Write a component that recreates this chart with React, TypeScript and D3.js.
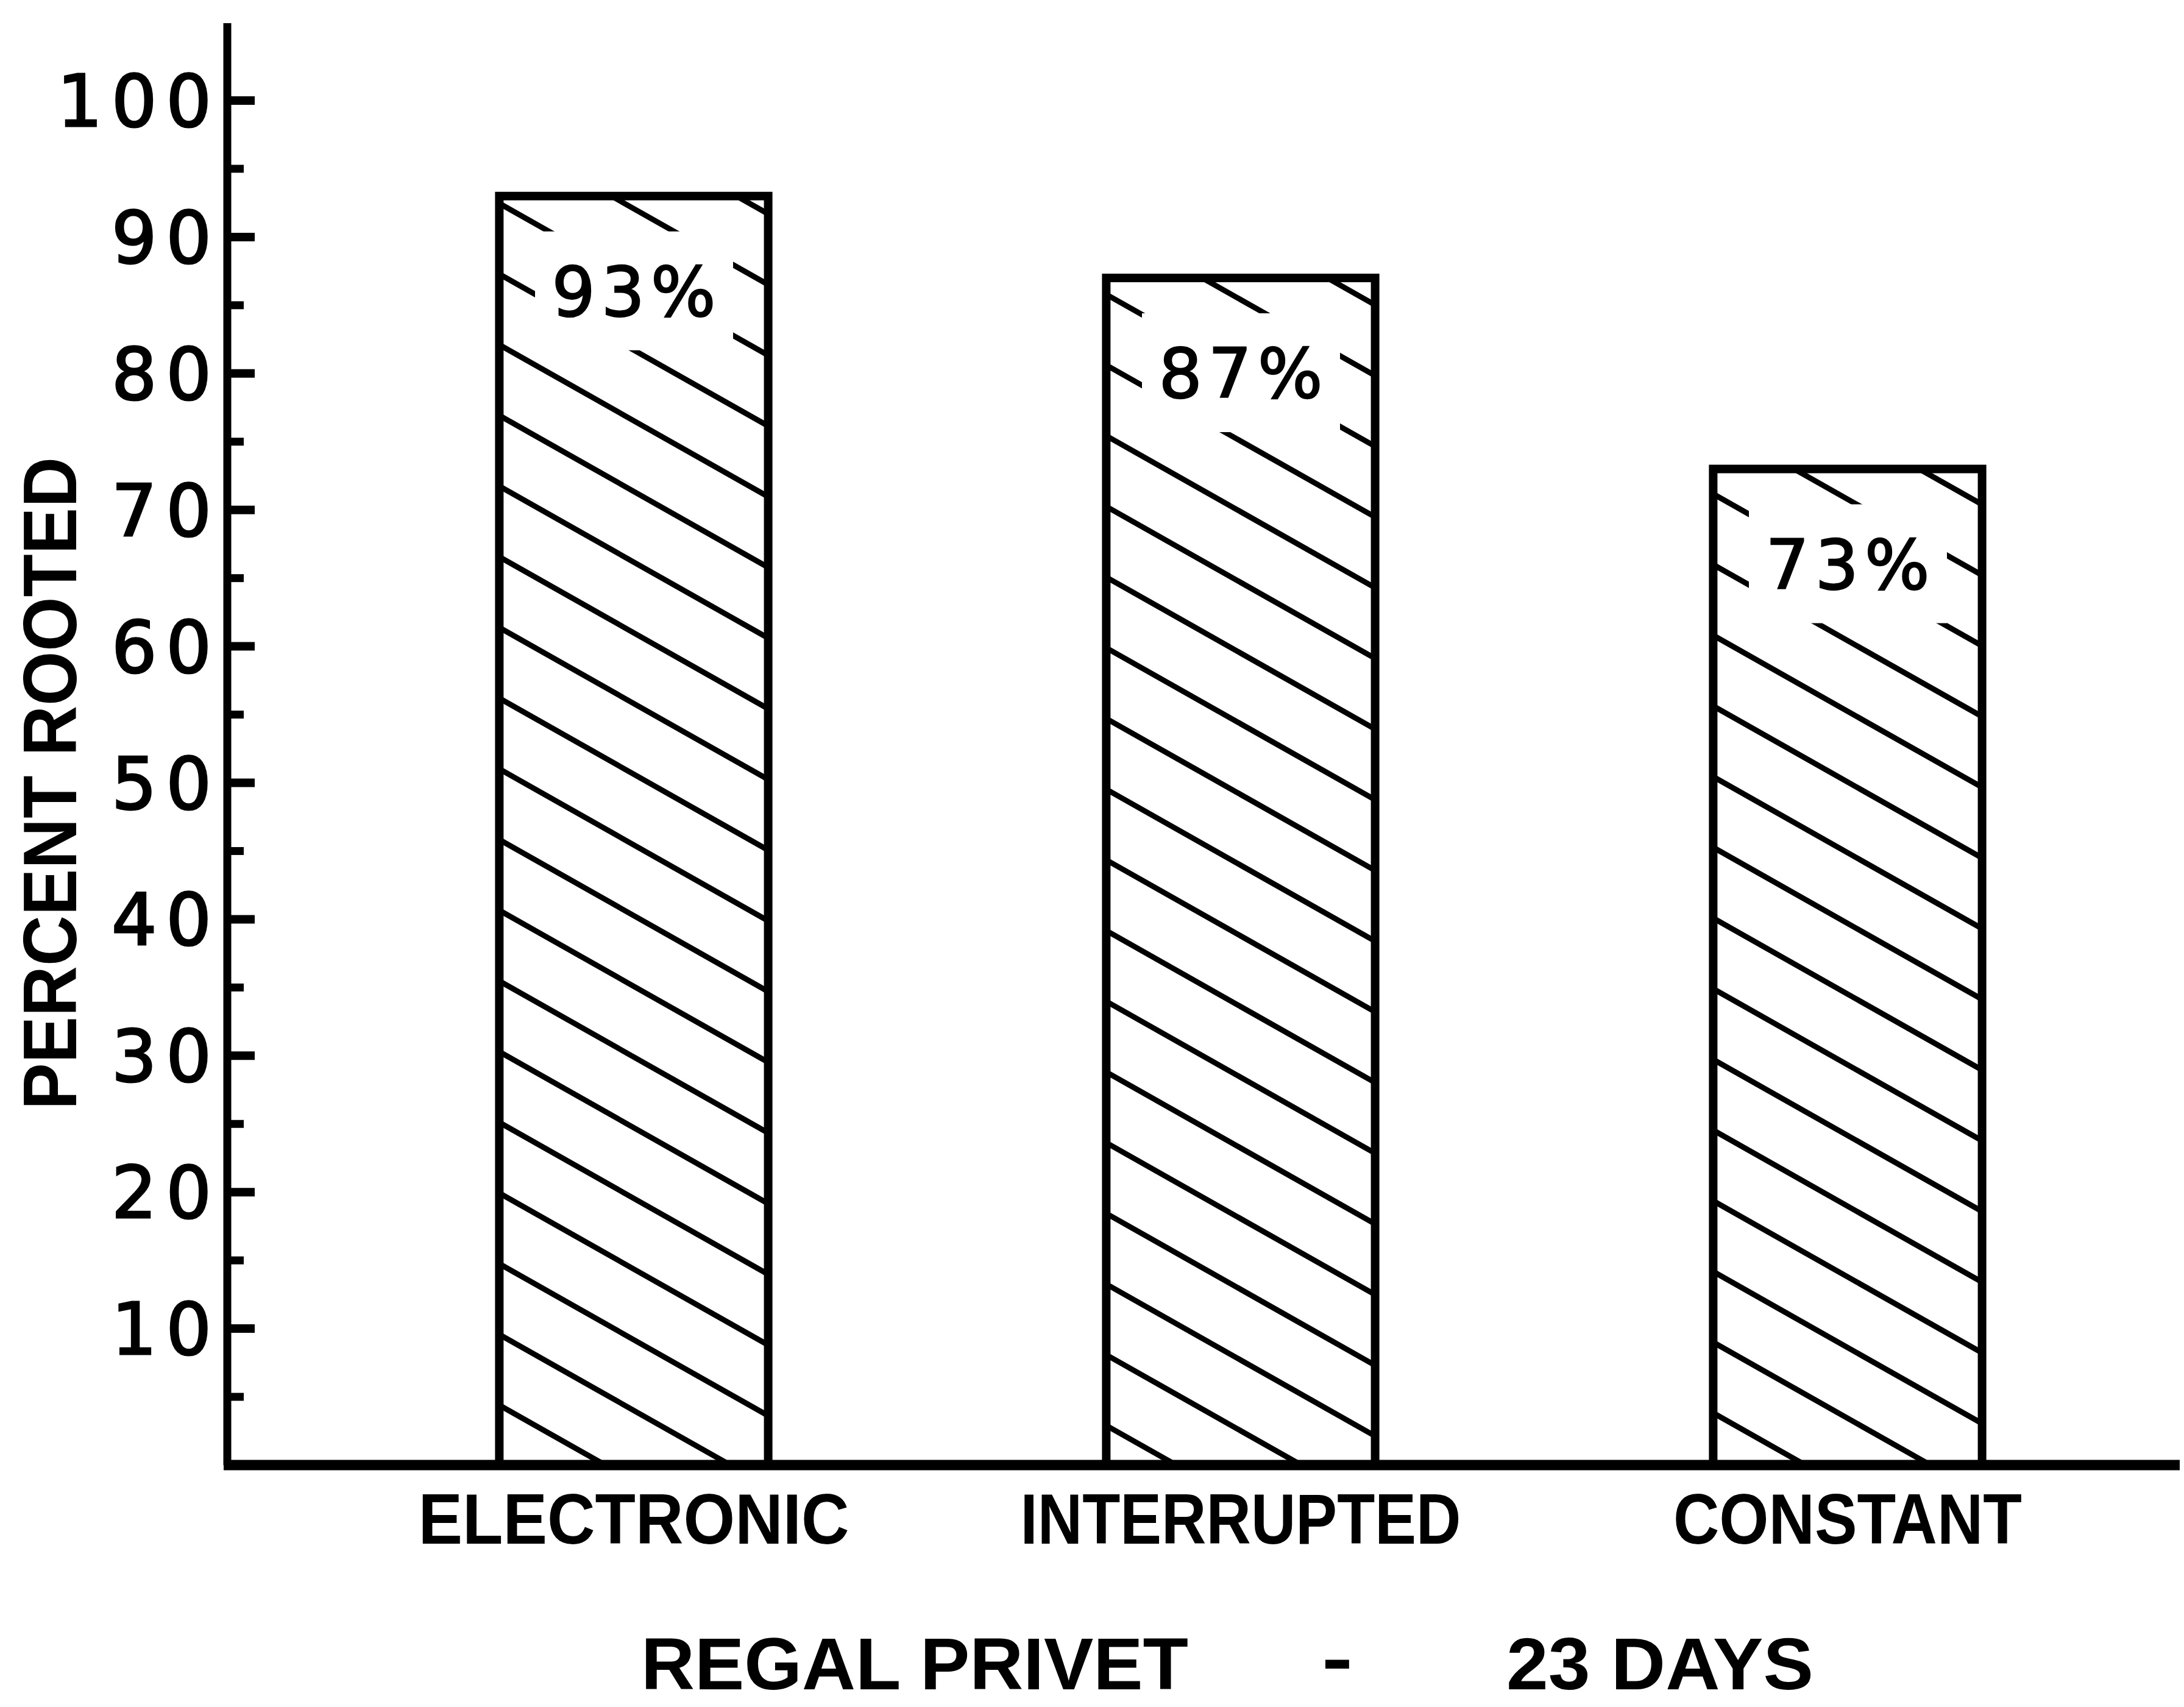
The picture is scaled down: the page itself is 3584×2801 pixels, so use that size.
import React from "react";
import * as d3 from "d3";

// ---- data ----
const categories = ["ELECTRONIC", "INTERRUPTED", "CONSTANT"];
const percentRooted = [93, 87, 73];
const barLabels = ["93%", "87%", "73%"];
const yMajorTicks = [10, 20, 30, 40, 50, 60, 70, 80, 90, 100];
const yMinorTicks = [5, 15, 25, 35, 45, 55, 65, 75, 85, 95];
const yTickLabels = ["10", "20", "30", "40", "50", "60", "70", "80", "90", "100"];
const yAxisTitle = "PERCENT ROOTED";
const titleLeft = "REGAL PRIVET";
const titleDash = "-";
const titleRight = "23 DAYS";

// ---- layout / style ----
const W = 3584;
const H = 2801;
const AXIS_X = 373;
const AXIS_TOP = 38;
const ZERO_Y = 2404;
const X_END = 3577;
const HATCH_SLOPE = 0.565;
const HATCH_STEP = 116;
const HATCH_PHASE = [12, 27, 41];
const CAT_LABEL_LEN = [707, 723, 572];
const BOLD = "'Liberation Sans', Arial, sans-serif";
const ROUND = "'DejaVu Sans', 'Noto Sans', sans-serif";

export default function App() {
  const y = d3.scaleLinear().domain([0, 100]).range([ZERO_Y, 165]);
  const x = d3
    .scaleBand<string>()
    .domain(categories)
    .range([542, 3530])
    .paddingInner(0.557)
    .paddingOuter(0.2785);

  const bw = x.bandwidth();

  return (
    <svg
      width={W}
      height={H}
      viewBox={`0 0 ${W} ${H}`}
      style={{ position: "absolute", left: 0, top: 0, background: "#fff" }}
    >
      <rect x={0} y={0} width={W} height={H} fill="#fff" />
      <defs>
        {categories.map((c, i) => {
          const x0 = x(c)!;
          const yt = y(percentRooted[i]);
          return (
            <clipPath id={`clip-${i}`} key={c}>
              <rect x={x0} y={yt} width={bw} height={ZERO_Y - yt} />
            </clipPath>
          );
        })}
      </defs>

      {/* bars */}
      {categories.map((c, i) => {
        const x0 = x(c)!;
        const x1 = x0 + bw;
        const cx = x0 + bw / 2;
        const yt = y(percentRooted[i]);
        const lines: [number, number, number, number][] = [];
        for (let k = -6; k < 40; k++) {
          const ya = yt + HATCH_PHASE[i] + k * HATCH_STEP;
          const yb = ya + HATCH_SLOPE * bw;
          if (yb < yt - 5 || ya > ZERO_Y + 5) continue;
          lines.push([x0, ya, x1, yb]);
        }
        const labelCy = yt + 155;
        return (
          <g key={c}>
            <g clipPath={`url(#clip-${i})`}>
              {lines.map((l, j) => (
                <line
                  key={j}
                  x1={l[0]}
                  y1={l[1]}
                  x2={l[2]}
                  y2={l[3]}
                  stroke="#000"
                  strokeWidth={9}
                />
              ))}
            </g>
            <rect x={cx - 162} y={labelCy - 97} width={325} height={195} fill="#fff" />
            <text
              x={cx + 5}
              y={labelCy + 41}
              textAnchor="middle"
              fontFamily={ROUND}
              fontSize={112}
              letterSpacing={10}
              fill="#000"
              stroke="#000"
              strokeWidth={2.5}
            >
              {barLabels[i]}
            </text>
            <rect
              x={x0}
              y={yt}
              width={bw}
              height={ZERO_Y - yt}
              fill="none"
              stroke="#000"
              strokeWidth={14}
            />
          </g>
        );
      })}

      {/* y axis */}
      <line x1={AXIS_X} y1={AXIS_TOP} x2={AXIS_X} y2={ZERO_Y} stroke="#000" strokeWidth={13} />
      {yMajorTicks.map((t, i) => (
        <g key={`M${t}`}>
          <line x1={AXIS_X} x2={418} y1={y(t)} y2={y(t)} stroke="#000" strokeWidth={14} />
          <text
            x={362}
            y={y(t) + 42}
            textAnchor="end"
            fontFamily={ROUND}
            fontSize={117}
            letterSpacing={15}
            fill="#000"
            stroke="#000"
            strokeWidth={3}
          >
            {yTickLabels[i]}
          </text>
        </g>
      ))}
      {yMinorTicks.map((t) => (
        <line key={`m${t}`} x1={AXIS_X} x2={400} y1={y(t)} y2={y(t)} stroke="#000" strokeWidth={13} />
      ))}

      {/* x axis */}
      <line x1={AXIS_X - 6} y1={ZERO_Y} x2={X_END} y2={ZERO_Y} stroke="#000" strokeWidth={17} />

      {/* category labels */}
      {categories.map((c, i) => (
        <text
          key={`lab-${c}`}
          x={x(c)! + bw / 2 - CAT_LABEL_LEN[i] / 2}
          y={2533}
          fontFamily={BOLD}
          fontWeight={700}
          fontSize={116}
          textLength={CAT_LABEL_LEN[i]}
          lengthAdjust="spacingAndGlyphs"
          fill="#000"
        >
          {c}
        </text>
      ))}

      {/* y axis title */}
      <text
        transform="translate(125,1821) rotate(-90)"
        x={0}
        y={0}
        fontFamily={BOLD}
        fontWeight={700}
        fontSize={124}
        textLength={1071}
        lengthAdjust="spacingAndGlyphs"
        fill="#000"
      >
        {yAxisTitle}
      </text>

      {/* chart title */}
      <text
        x={1052}
        y={2772}
        fontFamily={BOLD}
        fontWeight={700}
        fontSize={120}
        textLength={898}
        lengthAdjust="spacingAndGlyphs"
        fill="#000"
      >
        {titleLeft}
      </text>
      <text
        x={2169}
        y={2762}
        fontFamily={BOLD}
        fontWeight={700}
        fontSize={120}
        textLength={51}
        lengthAdjust="spacingAndGlyphs"
        fill="#000"
      >
        {titleDash}
      </text>
      <text
        x={2472}
        y={2772}
        fontFamily={BOLD}
        fontWeight={700}
        fontSize={120}
        textLength={504}
        lengthAdjust="spacingAndGlyphs"
        fill="#000"
      >
        {titleRight}
      </text>
    </svg>
  );
}
